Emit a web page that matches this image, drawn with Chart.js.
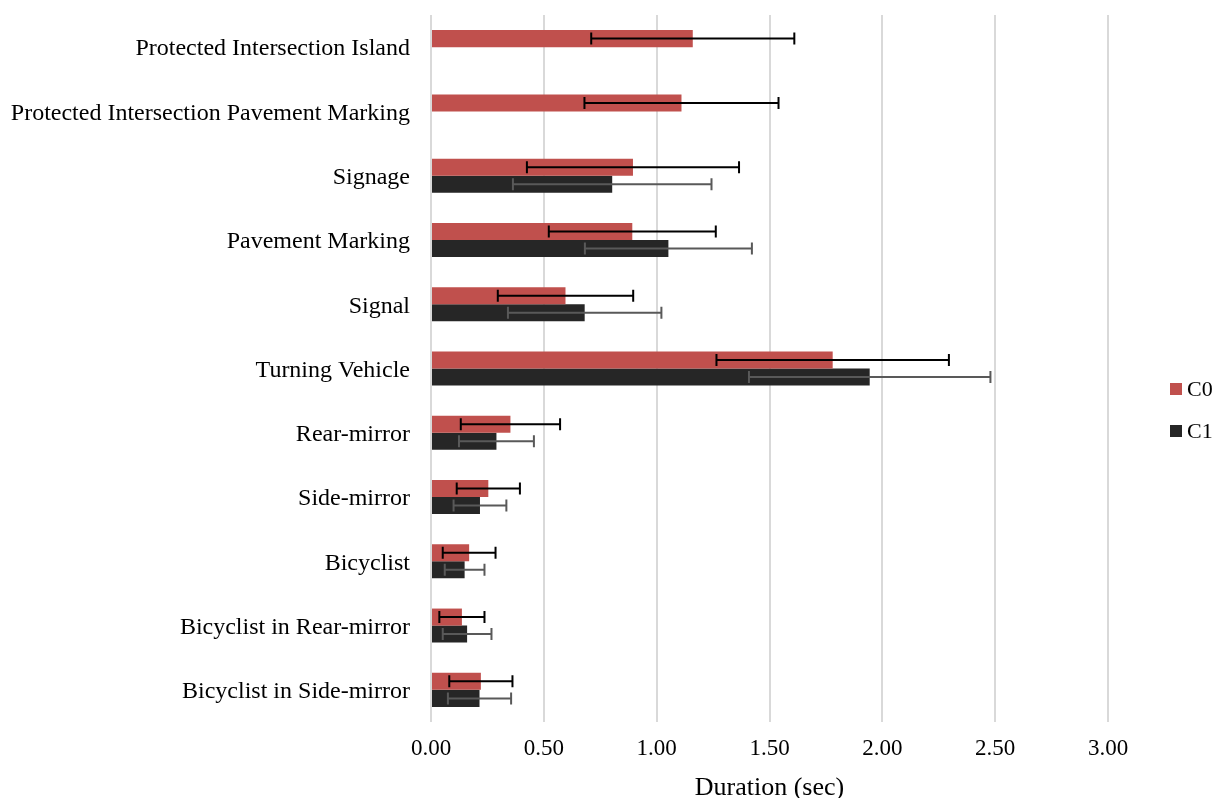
<!DOCTYPE html>
<html>
<head>
<meta charset="utf-8">
<script src="https://cdn.jsdelivr.net/npm/chart.js@4/dist/chart.umd.min.js"></script>
<style>
  html, body { margin: 0; padding: 0; background: #ffffff; }
  #wrap { width: 1217px; height: 798px; }
</style>
</head>
<body>
<div id="wrap"><canvas id="c" width="1217" height="798"></canvas></div>
<script>
const categories = [
  "Protected Intersection Island",
  "Protected Intersection Pavement Marking",
  "Signage",
  "Pavement Marking",
  "Signal",
  "Turning Vehicle",
  "Rear-mirror",
  "Side-mirror",
  "Bicyclist",
  "Bicyclist in Rear-mirror",
  "Bicyclist in Side-mirror"
];
const seriesNames = ["C0", "C1"];
const c0Values = [1.16, 1.11, 0.895, 0.892, 0.596, 1.78, 0.352, 0.254, 0.169, 0.137, 0.221];
const c0Errors = [0.45, 0.43, 0.47, 0.37, 0.30, 0.515, 0.22, 0.14, 0.117, 0.10, 0.14];
const c1Values = [null, null, 0.803, 1.052, 0.681, 1.944, 0.29, 0.217, 0.149, 0.160, 0.215];
const c1Errors = [null, null, 0.44, 0.37, 0.34, 0.535, 0.166, 0.117, 0.088, 0.108, 0.14];
const xTickValues = [0, 0.5, 1.0, 1.5, 2.0, 2.5, 3.0];
const xTitle = "Duration (sec)";

const FONT = "'Liberation Serif', 'Times New Roman', serif";

const errorBarPlugin = {
  id: 'errorBars',
  afterDatasetsDraw(chart) {
    const ctx = chart.ctx;
    const xs = chart.scales.x;
    chart.data.datasets.forEach((ds, di) => {
      const meta = chart.getDatasetMeta(di);
      if (meta.hidden) return;
      const errs = ds.errors || [];
      meta.data.forEach((bar, i) => {
        const v = ds.data[i];
        const e = errs[i];
        if (v == null || e == null) return;
        const y = bar.y;
        const x1 = xs.getPixelForValue(v - e);
        const x2 = xs.getPixelForValue(v + e);
        const cap = 6;
        ctx.save();
        ctx.strokeStyle = ds.errorColor;
        ctx.lineWidth = 2;
        ctx.beginPath();
        ctx.moveTo(x1, y); ctx.lineTo(x2, y);
        ctx.moveTo(x1, y - cap); ctx.lineTo(x1, y + cap);
        ctx.moveTo(x2, y - cap); ctx.lineTo(x2, y + cap);
        ctx.stroke();
        ctx.restore();
      });
    });
  }
};

// simple right-side legend built from the datasets
const sideLegendPlugin = {
  id: 'sideLegend',
  afterDraw(chart) {
    const ctx = chart.ctx;
    const boxX = 1170, firstY = 389, step = 42, box = 12;
    ctx.save();
    ctx.font = "22px " + FONT;
    ctx.textBaseline = 'middle';
    ctx.textAlign = 'left';
    chart.data.datasets.forEach((ds, i) => {
      const cy = firstY + i * step;
      ctx.fillStyle = ds.backgroundColor;
      ctx.fillRect(boxX, cy - box / 2, box, box);
      ctx.fillStyle = '#000000';
      ctx.fillText(ds.label, boxX + box + 5, cy + 1);
    });
    ctx.restore();
  }
};

new Chart(document.getElementById('c'), {
  type: 'bar',
  data: {
    labels: categories,
    datasets: [
      { label: seriesNames[0], data: c0Values, errors: c0Errors, backgroundColor: '#C0504D', errorColor: '#000000' },
      { label: seriesNames[1], data: c1Values, errors: c1Errors, backgroundColor: '#262626', errorColor: '#595959' }
    ]
  },
  options: {
    indexAxis: 'y',
    responsive: false,
    devicePixelRatio: 1,
    animation: false,
    datasets: { bar: { categoryPercentage: 0.53, barPercentage: 1.0 } },
    layout: { padding: { top: 15, right: 109, left: 0, bottom: 0 } },
    plugins: {
      legend: { display: false },
      tooltip: { enabled: false }
    },
    scales: {
      x: {
        min: 0,
        max: 3,
        afterBuildTicks(scale) { scale.ticks = xTickValues.map(v => ({ value: v })); },
        afterFit(scale) { scale.height = 76; scale.paddingRight = 0; scale.paddingLeft = 0; },
        ticks: {
          font: { family: FONT, size: 23 },
          color: '#000000',
          padding: 13,
          maxRotation: 0,
          callback: v => Number(v).toFixed(2)
        },
        grid: { color: '#D9D9D9', lineWidth: 2, drawTicks: false },
        border: { display: false },
        title: {
          display: true,
          text: xTitle,
          font: { family: FONT, size: 26, lineHeight: 0.78 },
          color: '#000000',
          padding: { top: 0, bottom: 0 }
        }
      },
      y: {
        afterFit(scale) { scale.width = 431; scale.paddingTop = 0; scale.paddingBottom = 0; },
        ticks: {
          font: { family: FONT, size: 24 },
          color: '#000000',
          padding: 21,
          labelOffset: 2
        },
        grid: { display: false, drawTicks: false },
        border: { display: false }
      }
    }
  },
  plugins: [errorBarPlugin, sideLegendPlugin]
});
</script>
</body>
</html>
